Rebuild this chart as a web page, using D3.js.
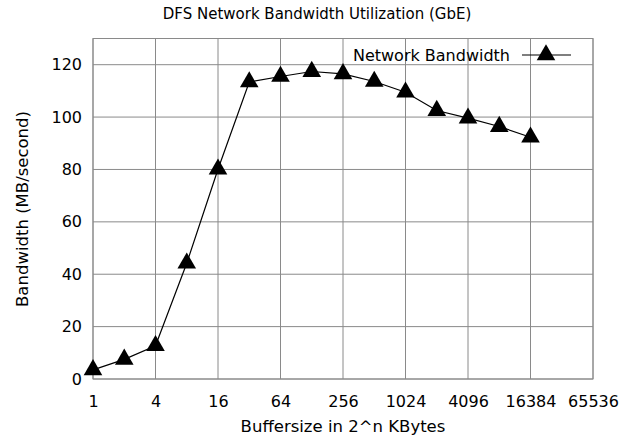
<!DOCTYPE html>
<html>
<head>
<meta charset="utf-8">
<script src="https://cdn.jsdelivr.net/npm/d3@7"></script>
<style>
  body { margin: 0; background: #fff; }
  text { font-family: "DejaVu Sans", Verdana, sans-serif; fill: #000; }
</style>
</head>
<body>
<div id="chart"></div>
<script>
// buffer sizes in KBytes (2^n) and measured bandwidth in MB/s
var bufferSizes = [1, 2, 4, 8, 16, 32, 64, 128, 256, 512, 1024, 2048, 4096, 8192, 16384];
var bandwidth = [3.5, 7.5, 12.7, 44.2, 80.1, 113.4, 115.5, 117.4, 116.5, 113.6, 109.5, 102.5, 99.6, 96.4, 92.3];
var xTicks = [1, 4, 16, 64, 256, 1024, 4096, 16384, 65536];
var yTicks = [0, 20, 40, 60, 80, 100, 120];

var margin = {top: 38.5, right: 39, bottom: 59, left: 93},
    width = 632 - margin.left - margin.right,
    height = 438 - margin.top - margin.bottom;

var data = bufferSizes.map(function(d, i) { return {size: d, bw: bandwidth[i]}; });

var x = d3.scaleLog().base(2).domain([1, 65536]).range([0, width]);
var y = d3.scaleLinear().domain([0, 130]).range([height, 0]);

var svg = d3.select("#chart").append("svg")
    .attr("width", 632)
    .attr("height", 438);

var g = svg.append("g")
    .attr("transform", "translate(" + margin.left + "," + margin.top + ")");

// grid
g.selectAll("line.vgrid")
    .data(xTicks)
    .enter().append("line")
    .attr("x1", function(d) { return x(d); })
    .attr("x2", function(d) { return x(d); })
    .attr("y1", 0).attr("y2", height)
    .attr("stroke", "#8a8a8a").attr("stroke-width", 1);

g.selectAll("line.hgrid")
    .data(yTicks)
    .enter().append("line")
    .attr("x1", 0).attr("x2", width)
    .attr("y1", function(d) { return y(d); })
    .attr("y2", function(d) { return y(d); })
    .attr("stroke", "#8a8a8a").attr("stroke-width", 1);

g.append("rect")
    .attr("width", width).attr("height", height)
    .attr("fill", "none").attr("stroke", "#8a8a8a").attr("stroke-width", 1);

// axes (labels only)
var xAxis = g.append("g")
    .attr("transform", "translate(0," + height + ")")
    .call(d3.axisBottom(x).tickValues(xTicks).tickFormat(d3.format("d")).tickSize(0).tickPadding(17));
var yAxis = g.append("g")
    .call(d3.axisLeft(y).tickValues(yTicks).tickSize(0).tickPadding(11));
[xAxis, yAxis].forEach(function(a) {
  a.select(".domain").remove();
  a.selectAll("text").attr("font-size", "16px")
    .style("font-family", "DejaVu Sans, sans-serif").attr("fill", "#000");
});

// line
var line = d3.line()
    .x(function(d) { return x(d.size); })
    .y(function(d) { return y(d.bw); });

g.append("path")
    .datum(data)
    .attr("d", line)
    .attr("fill", "none")
    .attr("stroke", "#000")
    .attr("stroke-width", 1.2);

var tri = d3.symbol().type(d3.symbolTriangle).size(150);

g.selectAll("path.marker")
    .data(data)
    .enter().append("path")
    .attr("class", "marker")
    .attr("d", tri)
    .attr("transform", function(d) { return "translate(" + x(d.size) + "," + y(d.bw) + ")"; })
    .attr("fill", "#000");

// legend
var legend = svg.append("g").attr("transform", "translate(0,55)");
legend.append("text")
    .attr("x", 510).attr("y", 6)
    .attr("text-anchor", "end")
    .attr("font-size", "16px")
    .text("Network Bandwidth");
legend.append("line")
    .attr("x1", 522).attr("x2", 571)
    .attr("y1", 0).attr("y2", 0)
    .attr("stroke", "#000").attr("stroke-width", 1.2);
legend.append("path")
    .attr("d", tri)
    .attr("transform", "translate(546,0)")
    .attr("fill", "#000");

// titles
svg.append("text")
    .attr("x", 317).attr("y", 19)
    .attr("text-anchor", "middle")
    .attr("font-size", "15px")
    .text("DFS Network Bandwidth Utilization (GbE)");

svg.append("text")
    .attr("x", 343).attr("y", 432)
    .attr("text-anchor", "middle")
    .attr("font-size", "16.5px")
    .text("Buffersize in 2^n KBytes");

svg.append("text")
    .attr("transform", "rotate(-90)")
    .attr("x", -209)
    .attr("y", 28)
    .attr("text-anchor", "middle")
    .attr("font-size", "16.5px")
    .text("Bandwidth (MB/second)");
</script>
</body>
</html>
